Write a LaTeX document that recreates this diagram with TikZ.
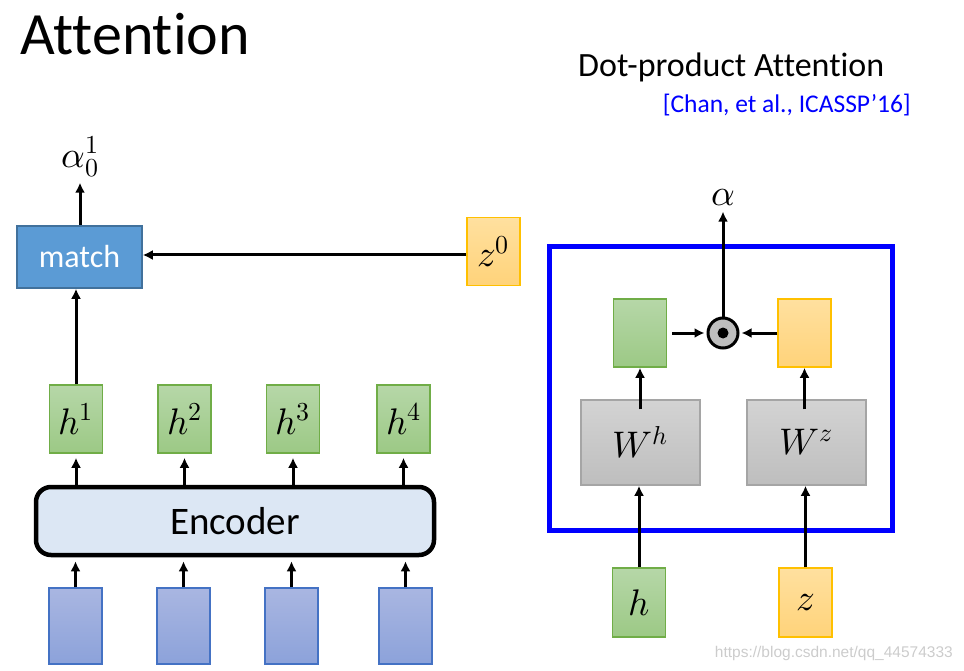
\documentclass[tikz,border=0pt]{standalone}
\usepackage{unicode-math}
\setmainfont{Carlito}[Ligatures=NoCommon]
\setmathfont{Latin Modern Math}
\newfontfamily\wmfont{Liberation Sans}
\usetikzlibrary{arrows.meta}

\definecolor{matchblue}{HTML}{5B9BD5}
\definecolor{matchedge}{HTML}{41719C}
\definecolor{hgreenA}{HTML}{B6D7A8}
\definecolor{hgreenB}{HTML}{9CC985}
\definecolor{hedge}{HTML}{70AD47}
\definecolor{zorangeA}{HTML}{FFE09F}
\definecolor{zorangeB}{HTML}{FFD37A}
\definecolor{zedge}{HTML}{FFC000}
\definecolor{inA}{HTML}{A9B6E1}
\definecolor{inB}{HTML}{8CA2DA}
\definecolor{inedge}{HTML}{4472C4}
\definecolor{wgrayA}{HTML}{D3D3D3}
\definecolor{wgrayB}{HTML}{BEBEBE}
\definecolor{wedge}{HTML}{A5A5A5}
\definecolor{encfill}{HTML}{DCE7F4}

\tikzset{
  hbox/.style={draw=hedge, line width=1.5pt, top color=hgreenA, bottom color=hgreenB,
    minimum width=53pt, minimum height=68pt, inner sep=0pt,
    font=\fontsize{37}{44}\selectfont},
  zbox/.style={hbox, draw=zedge, top color=zorangeA, bottom color=zorangeB},
  inbox/.style={hbox, draw=inedge, top color=inA, bottom color=inB, minimum height=76pt},
  wbox/.style={hbox, draw=wedge, top color=wgrayA, bottom color=wgrayB,
    minimum width=119pt, minimum height=85pt},
  arr/.style={line width=3pt, -{Latex[length=10pt,width=10pt]}},
  mathlbl/.style={inner sep=1pt, font=\fontsize{37}{44}\selectfont}
}

\begin{document}
\begin{tikzpicture}[x=1pt,y=-1pt]
  \useasboundingbox (0,0) rectangle (964,671);

  % titles
  \node[anchor=base west, inner sep=0pt, font=\fontsize{60}{70}\selectfont] (title) at (20,55) {Attention};
  \node[anchor=base west, inner sep=0pt, font=\fontsize{34}{40}\selectfont] (dptitle) at (578,77) {Dot-product Attention};
  \node[anchor=base east, inner sep=0pt, text=blue, font=\fontsize{25.5}{30}\selectfont] (cite) at (911,113) {[Chan, et al., ICASSP’16]};

  % left: encoder and match
  \node[draw=matchedge, line width=1.5pt, fill=matchblue, text=white, minimum width=125pt,
        minimum height=62pt, font=\fontsize{32}{38}\selectfont] (match) at (79.5,257) {match};
  \node[zbox] (z0) at (493.5,251.5) {$z^0$};
  \node[mathlbl] (a01) at (80,157) {$\alpha_0^1$};

  \node[draw, line width=4.5pt, rounded corners=15pt, fill=encfill, minimum width=398pt,
        minimum height=68pt, font=\fontsize{39}{46}\selectfont] (enc) at (235,521) {Encoder};

  \foreach \i/\x/\xi in {1/76/75.5, 2/184.5/183.5, 3/293/291.5, 4/403.5/405.5} {
    \node[hbox] (h\i) at (\x,419) {$h^{\i}$};
    \node[inbox] (x\i) at (\xi,626) {};
    \draw[arr, shorten >=4pt] (enc.north -| h\i) -- (h\i.south);
    \draw[arr, shorten >=4pt] (x\i.north) -- (x\i.north |- enc.south);
  }

  \draw[arr] (h1.north) -- (h1.north |- match.south);
  \draw[arr, shorten >=4pt] (match.north -| a01) -- (a01.south);
  \draw[arr] (z0.west |- 0,255) -- (match.east |- 0,255);

  % right: dot-product attention
  \node[draw=blue, line width=5pt, minimum width=343pt, minimum height=283pt] (frame) at (720.5,388.5) {};
  \node[mathlbl] (alpha) at (723,198) {$\alpha$};
  \node[circle, draw, line width=3pt, fill=wgrayB, minimum size=30pt, inner sep=0pt] (dot) at (723,333) {};
  \fill (dot.center) circle (5.5);

  \node[hbox] (hv) at (640,333) {};
  \node[zbox] (zv) at (804.5,333) {};
  \node[wbox] (Wh) at (640.5,442.5) {$W^h$};
  \node[wbox] (Wz) at (806.5,442.5) {$W^z$};
  \node[hbox, minimum height=69pt] (h) at (639,602.5) {$h$};
  \node[zbox, minimum height=69pt] (z) at (805.5,602.5) {$z$};

  \draw[arr, shorten <=5pt, shorten >=2pt] (hv.east) -- (dot.west);
  \draw[arr, shorten >=2pt] (zv.west) -- (dot.east);
  \draw[arr, shorten >=4pt] (dot.north) -- (alpha.south);
  \draw[arr, shorten <=-10pt] (Wh.north -| hv) -- (hv.south);
  \draw[arr, shorten <=-10pt] (Wz.north -| zv) -- (zv.south);
  \draw[arr] (h.north) -- (h.north |- Wh.south);
  \draw[arr] (z.north) -- (z.north |- Wz.south);

  % watermark
  \node[anchor=base east, inner sep=0pt, text=black!20, font=\wmfont\fontsize{15.5}{18}\selectfont] (wm) at (953,657) {https://blog.csdn.net/qq\_44574333};
\end{tikzpicture}
\end{document}
